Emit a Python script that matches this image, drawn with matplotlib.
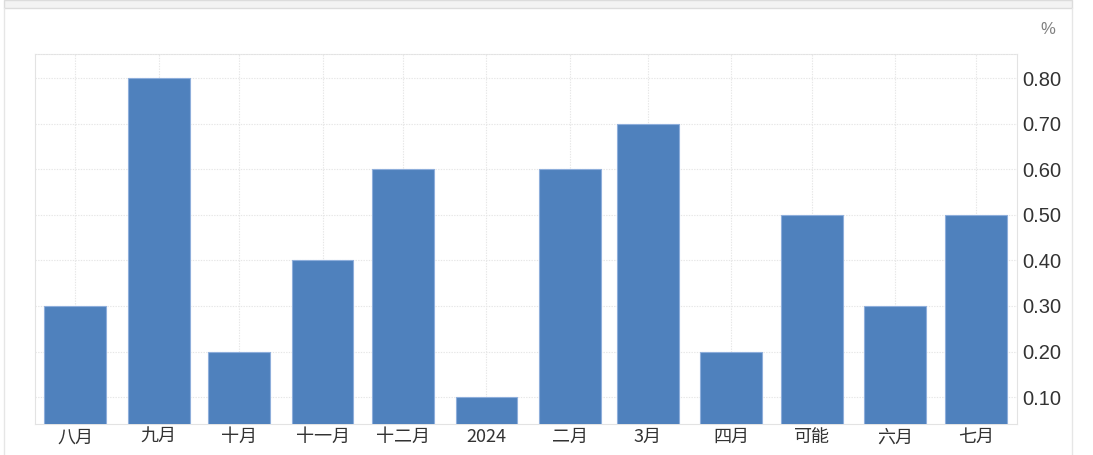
import pandas as pd
import matplotlib.pyplot as plt
import matplotlib.dates as mdates
from matplotlib.patches import Rectangle
from matplotlib.lines import Line2D

# data (monthly values, %)
months = ["2023-08-01", "2023-09-01", "2023-10-01", "2023-11-01", "2023-12-01", "2024-01-01",
          "2024-02-01", "2024-03-01", "2024-04-01", "2024-05-01", "2024-06-01", "2024-07-01"]
labels = ["八月", "九月", "十月", "十一月", "十二月", "2024",
          "二月", "3月", "四月", "可能", "六月", "七月"]
values = [0.3, 0.8, 0.2, 0.4, 0.6, 0.1, 0.6, 0.7, 0.2, 0.5, 0.3, 0.5]
yticks = [0.1, 0.2, 0.3, 0.4, 0.5, 0.6, 0.7, 0.8]

plt.rcParams['font.family'] = ['Liberation Sans', 'Noto Sans CJK SC', 'DejaVu Sans']

dates = pd.to_datetime(months)
x = mdates.date2num(dates)

W, H = 1093, 455
fig = plt.figure(figsize=(W / 100, H / 100), dpi=100)

# page frame bits around the chart
fig.patches.append(Rectangle((4 / W, 1 - 8 / H), (1072 - 4) / W, 8 / H, transform=fig.transFigure,
                             facecolor="#f3f3f3", edgecolor="#dcdcdc", lw=1))
fig.lines.append(Line2D([4 / W, 4 / W], [0, 1 - 8 / H], transform=fig.transFigure, color="#e6e6e6", lw=1))
fig.lines.append(Line2D([1072 / W, 1072 / W], [0, 1 - 8 / H], transform=fig.transFigure, color="#e6e6e6", lw=1))

ax = fig.add_axes([35 / W, 31 / H, (1017 - 35) / W, (424 - 54) / H])

ax.bar(x, values, width=23, color="#4f81bd", edgecolor="#8eaedb", linewidth=0.8, zorder=3)

ax.set_xlim(x[0] - 15, x[-1] + 15.4)
ax.set_ylim(0.041, 0.853)

ax.set_xticks(x)
ax.set_xticklabels(labels, family=['Noto Sans CJK SC', 'DejaVu Sans'], fontsize=13, color="#333333")
ax.set_yticks(yticks)
ax.set_yticklabels([f"{v:.2f}" for v in yticks], fontsize=14.5, color="#333333")
ax.yaxis.tick_right()
ax.tick_params(axis="x", length=0, pad=3)
ax.tick_params(axis="y", length=0, pad=4)

ax.grid(True, color="#e6e6e6", linestyle=(0, (1.2, 1.2)), linewidth=0.8, zorder=0)
for side in ["left", "right", "bottom", "top"]:
    ax.spines[side].set_color("#e3e3e3")
ax.spines["top"].set_linestyle((0, (1.2, 1.2)))

ax.text(1.031, 1.065, "%", transform=ax.transAxes, fontsize=12, color="#808080", ha="center", va="center")

fig.savefig("out.png", dpi=100)
